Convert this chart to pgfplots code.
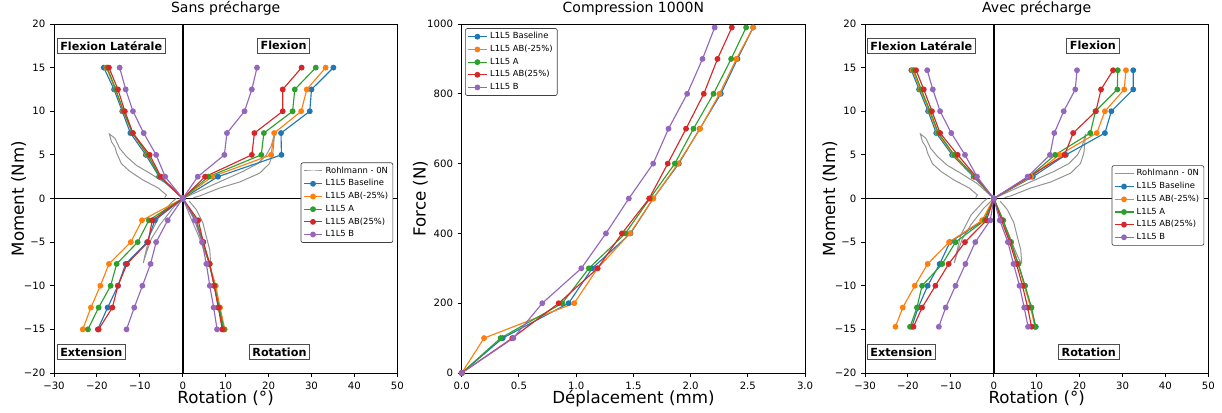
\documentclass[border=0pt]{standalone}
\usepackage{fontspec}
\setmainfont{DejaVu Sans}
\usepackage{pgfplots}
\pgfplotsset{compat=1.18}
\definecolor{c0}{HTML}{1F77B4}
\definecolor{c1}{HTML}{FF7F0E}
\definecolor{c2}{HTML}{2CA02C}
\definecolor{c3}{HTML}{D62728}
\definecolor{c4}{HTML}{9467BD}
\definecolor{rg}{HTML}{939393}
\tikzset{lbl/.style={draw=black!70, fill=white, line width=0.6pt, font=\bfseries\fontsize{8.4}{10}\selectfont, inner xsep=2.5pt, inner ysep=2.5pt}}
\pgfplotsset{
  base/.style={
    scale only axis, width=257.5pt, height=261.75pt,
    axis line style={line width=0.75pt},
    tick align=outside, xtick pos=left, ytick pos=left,
    major tick length=3pt, tick style={black, line width=0.7pt},
    ticklabel style={font=\fontsize{7.6}{8.5}\selectfont},
    /pgf/number format/assume math mode=true,
    /pgf/number format/set thousands separator={},
    label style={font=\fontsize{12.5}{14}\selectfont},
    title style={font=\fontsize{10.5}{12}\selectfont, at={(0.5,1)}, anchor=base, yshift=3pt},
    xlabel style={at={(0.5,0)}, anchor=base, yshift=-22.5pt},
    ylabel style={at={(0,0.5)}, anchor=base, yshift=22.5pt},
    every axis plot/.append style={line width=0.85pt, mark size=1.75pt},
    legend style={font=\fontsize{6.3}{7.5}\selectfont, draw=black!75, line width=0.5pt, rounded corners=1.5pt, inner sep=1.5pt, row sep=0.3pt, nodes={inner ysep=1.5pt}},
    legend cell align=left,
    legend image code/.code={\draw[mark repeat=2,mark phase=2] plot coordinates {(0cm,0cm) (0.25cm,0cm) (0.5cm,0cm)};},
    unbounded coords=jump,
  },
  rotax/.style={base,
    xmin=-30, xmax=50, ymin=-20, ymax=20,
    xtick={-30,-20,...,50}, xticklabels={−30,−20,−10,0,10,20,30,40,50},
    ytick={-20,-15,...,20}, yticklabels={−20,−15,−10,−5,0,5,10,15,20},
    xlabel={Rotation (°)}, ylabel={Moment (Nm)}, clip=false,
  },
}
\newcommand{\zerolines}{%
  \draw[line width=1.2pt] (axis cs:0,-20) -- (axis cs:0,20);
  \draw[line width=1.2pt] (axis cs:-30,0) -- (axis cs:50,0);
}
\newcommand{\rohl}{%
  \addplot[rg, line width=0.75pt, mark=none] coordinates {
    (0,0) (-3.8,1.7) (-7.7,2.9) (-10.8,3.8) (-13.1,4.8) (-14.7,5.75) (-15.8,6.9) (-17.1,7.4)
    (-16.6,6.5) (-15.8,5.9) (-15.4,5.2) (-14.3,4.0) (-12.3,3.1) (-9.2,2.1) (-5.7,1.2) (-3.8,0.4) (-4.2,0.1)
    (nan,nan)
    (0,0) (4,0.9) (9,2.0) (14,3.1) (17.5,4.0) (19.5,5.0) (20.6,6.0) (21.4,7.4)
    (21.0,5.2) (20.2,4.0) (17.9,2.9) (13.3,1.9) (8.6,1.2) (4.0,0.3) (2.5,0.1)
    (nan,nan)
    (0,0) (-2.3,-1.1) (-5.3,-3.0) (-7.3,-4.6) (-8.4,-6.1) (-9.2,-7.4)
    (-8.8,-6.5) (-7.7,-4.2) (-5.3,-1.9) (-2.5,-0.4) (-1.5,0)
    (nan,nan)
    (0,0) (1.6,-1.9) (3.6,-4.2) (5.1,-6.1) (6.2,-7.3) (6.5,-7.4)
    (6.3,-5.9) (5.5,-4.4) (4.7,-2.8) (3.2,-1.3) (1.5,-0.3)
  };
}
\begin{document}
\begin{tikzpicture}
\useasboundingbox (0,0) rectangle (916.5pt,309pt);
% ---------------- Left
\begin{axis}[rotax, at={(40.5pt,29.25pt)}, anchor=south west, title={Sans précharge},
  legend style={at={(0.988,0.488)}, anchor=east}]
\zerolines
\rohl
\addlegendentry{Rohlmann - 0N}
\addplot[c0, mark=*] coordinates {
 (0,0) (-5.5,2.5) (-8.6,5) (-12.2,7.5) (-14.1,10) (-16.0,12.5) (-18.4,15) (nan,nan)
 (0,0) (8.2,2.5) (23.0,5) (22.9,7.5) (29.6,10) (30.0,12.5) (35.1,15) (nan,nan)
 (0,0) (-6.5,-2.5) (-8.3,-5) (-13.3,-7.5) (-15.1,-10) (-17.5,-12.5) (-19.8,-15) (nan,nan)
 (0,0) (3.1,-2.5) (4.7,-5) (6.2,-7.5) (7.4,-10) (8.3,-12.5) (9.5,-15)};
\addlegendentry{L1L5 Baseline}
\addplot[c1, mark=*] coordinates {
 (0,0) (-5.2,2.5) (-8.3,5) (-11.7,7.5) (-13.9,10) (-15.7,12.5) (-17.8,15) (nan,nan)
 (0,0) (6.8,2.5) (20.6,5) (21.3,7.5) (27.6,10) (28.9,12.5) (33.3,15) (nan,nan)
 (0,0) (-9.5,-2.5) (-12.1,-5) (-17.2,-7.5) (-19.2,-10) (-21.4,-12.5) (-23.3,-15) (nan,nan)
 (0,0) (3.1,-2.5) (4.7,-5) (6.2,-7.5) (7.7,-10) (8.7,-12.5) (9.8,-15)};
\addlegendentry{L1L5 AB(-25\%)}
\addplot[c2, mark=*] coordinates {
 (0,0) (-5.4,2.5) (-8.1,5) (-11.7,7.5) (-13.8,10) (-15.6,12.5) (-17.6,15) (nan,nan)
 (0,0) (6.0,2.5) (18.3,5) (18.9,7.5) (25.6,10) (26.1,12.5) (31.0,15) (nan,nan)
 (0,0) (-7.9,-2.5) (-10.5,-5) (-15.4,-7.5) (-16.8,-10) (-19.6,-12.5) (-22.1,-15) (nan,nan)
 (0,0) (3.1,-2.5) (4.7,-5) (6.2,-7.5) (7.4,-10) (8.5,-12.5) (9.6,-15)};
\addlegendentry{L1L5 A}
\addplot[c3, mark=*] coordinates {
 (0,0) (-5.1,2.5) (-7.7,5) (-11.6,7.5) (-13.5,10) (-15.1,12.5) (-17.2,15) (nan,nan)
 (0,0) (5.2,2.5) (16.1,5) (16.7,7.5) (23.3,10) (23.3,12.5) (27.7,15) (nan,nan)
 (0,0) (-7.1,-2.5) (-8.1,-5) (-13.0,-7.5) (-15.1,-10) (-16.4,-12.5) (-19.6,-15) (nan,nan)
 (0,0) (3.6,-2.5) (4.8,-5) (6.3,-7.5) (7.3,-10) (8.3,-12.5) (9.2,-15)};
\addlegendentry{L1L5 AB(25\%)}
\addplot[c4, mark=*] coordinates {
 (0,0) (-4.1,2.5) (-6.2,5) (-9.1,7.5) (-11.6,10) (-13.3,12.5) (-14.7,15) (nan,nan)
 (0,0) (3.5,2.5) (9.7,5) (10.3,7.5) (14.4,10) (16.1,12.5) (17.3,15) (nan,nan)
 (0,0) (-3.5,-2.5) (-6.2,-5) (-7.5,-7.5) (-9.4,-10) (-11.3,-12.5) (-13.1,-15) (nan,nan)
 (0,0) (2.8,-2.5) (4.5,-5) (5.5,-7.5) (6.3,-10) (7.2,-12.5) (8.0,-15)};
\addlegendentry{L1L5 B}
\node[lbl, anchor=west] at (axis cs:-29.4,17.5) {Flexion Latérale};
\node[lbl, anchor=east] at (axis cs:29.7,17.5) {Flexion};
\node[lbl, anchor=west] at (axis cs:-29.4,-17.6) {Extension};
\node[lbl, anchor=east] at (axis cs:29.7,-17.6) {Rotation};
\end{axis}
% ---------------- Middle
\begin{axis}[base, at={(346.3pt,29.25pt)}, anchor=south west, title={Compression 1000N},
  xmin=0, xmax=3, ymin=0, ymax=1000, xtick={0,0.5,...,3}, ytick={0,200,...,1000},
  xticklabel style={/pgf/number format/.cd, fixed, fixed zerofill, precision=1},
  xlabel={Déplacement (mm)}, ylabel={Force (N)}, ylabel style={yshift=4.5pt},
  legend style={at={(0.0096,0.988)}, anchor=north west}]
\addplot[c0, mark=*] coordinates {(0,0) (0.358,100) (0.934,200) (1.14,300) (1.475,400) (1.673,500) (1.897,600) (2.08,700) (2.264,800) (2.41,900) (2.546,990)};
\addlegendentry{L1L5 Baseline}
\addplot[c1, mark=*] coordinates {(0,0) (0.195,100) (0.983,200) (1.187,300) (1.47,400) (1.673,500) (1.89,600) (2.083,700) (2.252,800) (2.40,900) (2.546,990)};
\addlegendentry{L1L5 AB(-25\%)}
\addplot[c2, mark=*] coordinates {(0,0) (0.34,100) (0.879,200) (1.111,300) (1.43,400) (1.644,500) (1.862,600) (2.025,700) (2.20,800) (2.354,900) (2.485,990)};
\addlegendentry{L1L5 A}
\addplot[c3, mark=*] coordinates {(0,0) (0.442,100) (0.847,200) (1.187,300) (1.40,400) (1.638,500) (1.80,600) (1.96,700) (2.115,800) (2.235,900) (2.36,990)};
\addlegendentry{L1L5 AB(25\%)}
\addplot[c4, mark=*] coordinates {(0,0) (0.451,100) (0.704,200) (1.045,300) (1.26,400) (1.46,500) (1.673,600) (1.807,700) (1.97,800) (2.104,900) (2.21,990)};
\addlegendentry{L1L5 B}
\end{axis}
% ---------------- Right
\begin{axis}[rotax, at={(648.75pt,29.25pt)}, anchor=south west, title={Avec précharge},
  legend style={at={(0.988,0.48)}, anchor=east}]
\zerolines
\rohl
\addlegendentry{Rohlmann - 0N}
\addplot[c0, mark=*] coordinates {
 (0,0) (-4.7,2.5) (-9.7,5) (-13.4,7.5) (-15.3,10) (-17.4,12.5) (-19.2,14.7) (nan,nan)
 (0,0) (9.1,2.5) (16.8,5) (25.9,7.5) (27.4,10) (32.5,12.5) (32.5,14.7) (nan,nan)
 (0,0) (-2.3,-2.5) (-10.2,-5) (-12.6,-7.5) (-15.4,-10) (-17.6,-12.5) (-19.1,-14.7) (nan,nan)
 (0,0) (2.1,-2.5) (4.0,-5) (5.7,-7.5) (7.2,-10) (8.7,-12.5) (9.8,-14.7)};
\addlegendentry{L1L5 Baseline}
\addplot[c1, mark=*] coordinates {
 (0,0) (-4.5,2.5) (-9.4,5) (-13.1,7.5) (-15.0,10) (-17.1,12.5) (-18.9,14.7) (nan,nan)
 (0,0) (8.7,2.5) (15.3,5) (24.0,7.5) (25.9,10) (30.4,12.5) (30.8,14.7) (nan,nan)
 (0,0) (-2.7,-2.5) (-10.4,-5) (-15.4,-7.5) (-18.4,-10) (-21.2,-12.5) (-22.9,-14.7) (nan,nan)
 (0,0) (2.1,-2.5) (4.0,-5) (5.7,-7.5) (7.2,-10) (8.6,-12.5) (9.6,-14.7)};
\addlegendentry{L1L5 AB(-25\%)}
\addplot[c2, mark=*] coordinates {
 (0,0) (-4.4,2.5) (-9.2,5) (-12.9,7.5) (-14.8,10) (-16.9,12.5) (-18.6,14.7) (nan,nan)
 (0,0) (8.3,2.5) (14.3,5) (22.5,7.5) (23.7,10) (28.8,12.5) (28.9,14.7) (nan,nan)
 (0,0) (-2.1,-2.5) (-8.9,-5) (-12.0,-7.5) (-16.7,-10) (-17.9,-12.5) (-19.5,-14.7) (nan,nan)
 (0,0) (2.2,-2.5) (4.0,-5) (5.7,-7.5) (7.3,-10) (8.8,-12.5) (9.7,-14.7)};
\addlegendentry{L1L5 A}
\addplot[c3, mark=*] coordinates {
 (0,0) (-4.1,2.5) (-8.4,5) (-12.5,7.5) (-14.4,10) (-16.3,12.5) (-18.1,14.7) (nan,nan)
 (0,0) (8.2,2.5) (16.5,5) (18.5,7.5) (23.8,10) (25.0,12.5) (27.8,14.7) (nan,nan)
 (0,0) (-1.7,-2.5) (-6.7,-5) (-10.5,-7.5) (-13.6,-10) (-16.7,-12.5) (-18.7,-14.7) (nan,nan)
 (0,0) (1.8,-2.5) (3.7,-5) (5.3,-7.5) (6.7,-10) (7.9,-12.5) (8.8,-14.7)};
\addlegendentry{L1L5 AB(25\%)}
\addplot[c4, mark=*] coordinates {
 (0,0) (-3.9,2.5) (-6.7,5) (-9.9,7.5) (-12.5,10) (-14.2,12.5) (-15.5,14.7) (nan,nan)
 (0,0) (7.9,2.5) (13.1,5) (14.1,7.5) (16.3,10) (19.0,12.5) (19.4,14.7) (nan,nan)
 (0,0) (-0.8,-2.5) (-4.3,-5) (-6.6,-7.5) (-8.9,-10) (-11.2,-12.5) (-12.8,-14.7) (nan,nan)
 (0,0) (1.4,-2.5) (3.3,-5) (4.6,-7.5) (6.0,-10) (7.1,-12.5) (8.0,-14.7)};
\addlegendentry{L1L5 B}
\node[lbl, anchor=west] at (axis cs:-29.6,17.5) {Flexion Latérale};
\node[lbl, anchor=east] at (axis cs:29.3,17.5) {Flexion};
\node[lbl, anchor=west] at (axis cs:-29.6,-17.6) {Extension};
\node[lbl, anchor=east] at (axis cs:29.3,-17.6) {Rotation};
\end{axis}
\end{tikzpicture}
\end{document}
